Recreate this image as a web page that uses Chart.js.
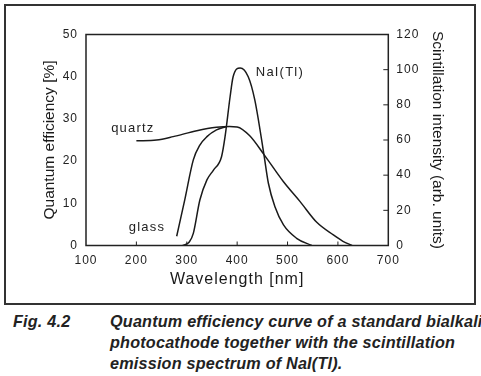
<!DOCTYPE html>
<html lang="en">

<head>
    <meta charset="UTF-8">
    <title>Quantum efficiency</title>
    <script src="https://cdn.jsdelivr.net/npm/chart.js"></script>

    <style>
        body {
            margin: 0;
            background: #ffffff;
            width: 481px;
            height: 376px;
            position: relative;
            overflow: hidden;
            font-family: "Liberation Sans", Arial, sans-serif;
        }

        .frame {
            position: absolute;
            left: 4px;
            top: 4px;
            width: 468px;
            height: 297px;
            border: 2px solid #333;
        }

        #chart {
            position: absolute;
            left: 0;
            top: 0;
        }

        .caption {
            position: absolute;
            font-weight: bold;
            font-style: italic;
            font-size: 16.2px;
            line-height: 21px;
            color: #222;
            letter-spacing: 0.2px;
            white-space: nowrap;
        }
    </style>
</head>

<body>

    <div class="frame"></div>
    <canvas id="chart" width="481" height="310"></canvas>

    <div class="caption" style="left:13px; top:311px;">Fig. 4.2</div>
    <div class="caption" style="left:110px; top:311px;">Quantum efficiency curve of a standard bialkali<br>photocathode together with the scintillation<br>emission spectrum of NaI(Tl).</div>

</body>

</html>

<script>
    // wavelength [nm] / quantum efficiency [%]
    const quartzWl = [200, 240, 273, 320, 359, 385, 400, 425, 453, 492, 525, 558, 591, 610, 628];
    const quartzQE = [24.8, 25.0, 25.8, 27.2, 28.0, 28.2, 28.1, 26.0, 21.6, 15.1, 10.4, 5.5, 2.5, 1.0, 0];

    const glassWl = [280, 296, 313, 326, 340, 359, 379];
    const glassQE = [2.2, 10.8, 20.3, 23.8, 25.8, 27.4, 28.2];

    // NaI(Tl) emission, arb. units
    const naiWl = [292, 305, 313, 326, 340, 353, 369, 376, 386, 392, 406, 422, 435, 453, 462, 475, 492, 518, 548];
    const naiInt = [0, 2, 6.9, 25.9, 37.3, 42.9, 50.5, 61.9, 84.6, 96, 101, 96, 82.8, 52, 35.4, 22, 11.7, 4.1, 0];

    const curveLabels = [
        { text: 'quartz', x: 150, y: 27.8, axis: 'y' },
        { text: 'glass', x: 185, y: 4.4, axis: 'y' },
        { text: 'NaI(Tl)', x: 437, y: 98.7, axis: 'y2' }
    ];

    function toPoints(xs, ys) {
        return xs.map((x, i) => ({ x: x, y: ys[i] }));
    }

    const ink = '#1a1a1a';
    const tickFont = { family: 'Liberation Sans, Arial', size: 12 };
    const titleFont = { family: 'Liberation Sans, Arial', size: 15.5 };

    const lineStyle = {
        borderColor: ink,
        borderWidth: 1.5,
        pointRadius: 0,
        showLine: true,
        fill: false,
        cubicInterpolationMode: 'monotone'
    };

    // axes frame, inward ticks, curve names
    // tick labels and the x title sit on z 1, so they get drawn after the datasets, with spacing
    const extras = {
        id: 'extras',
        beforeDraw(chart) {
            chart.ctx.letterSpacing = '0px';
        },
        afterDatasetsDraw(chart) {
            chart.ctx.letterSpacing = '1px';
        },
        afterDraw(chart) {
            const ctx = chart.ctx;
            const a = chart.chartArea;
            const sx = chart.scales.x;
            const sy2 = chart.scales.y2;
            ctx.save();
            ctx.strokeStyle = '#222';
            ctx.lineWidth = 1.5;
            ctx.strokeRect(a.left, a.top, a.right - a.left, a.bottom - a.top);

            ctx.lineWidth = 1;
            ctx.beginPath();
            sx.ticks.forEach(t => {
                if (t.value <= sx.min || t.value >= sx.max) return;
                const px = sx.getPixelForValue(t.value);
                ctx.moveTo(px, a.bottom);
                ctx.lineTo(px, a.bottom - 4);
            });
            sy2.ticks.forEach(t => {
                if (t.value <= sy2.min || t.value >= sy2.max) return;
                const py = sy2.getPixelForValue(t.value);
                ctx.moveTo(a.right, py);
                ctx.lineTo(a.right - 5, py);
            });
            ctx.stroke();

            ctx.fillStyle = '#222';
            ctx.font = '13px "Liberation Sans", Arial';
            ctx.letterSpacing = '1.2px';
            ctx.textBaseline = 'middle';
            ctx.textAlign = 'left';
            curveLabels.forEach(l => {
                ctx.fillText(l.text, sx.getPixelForValue(l.x), chart.scales[l.axis].getPixelForValue(l.y));
            });
            ctx.restore();
            ctx.letterSpacing = '0px';
        }
    };

    new Chart(document.getElementById('chart'), {
        type: 'scatter',
        data: {
            datasets: [
                { label: 'quartz', data: toPoints(quartzWl, quartzQE), yAxisID: 'y', ...lineStyle },
                { label: 'glass', data: toPoints(glassWl, glassQE), yAxisID: 'y', ...lineStyle },
                { label: 'NaI(Tl)', data: toPoints(naiWl, naiInt), yAxisID: 'y2', ...lineStyle }
            ]
        },
        options: {
            responsive: false,
            animation: false,
            layout: {
                padding: { left: 40, right: 34.4, top: 34.5, bottom: 21 }
            },
            plugins: {
                legend: { display: false },
                tooltip: { enabled: false }
            },
            scales: {
                x: {
                    type: 'linear',
                    min: 100,
                    max: 700,
                    grid: { display: false, drawTicks: false, z: 1 },
                    border: { display: false },
                    ticks: { stepSize: 100, color: '#222', font: tickFont, padding: 8, maxRotation: 0, z: 1 },
                    title: {
                        display: true,
                        text: 'Wavelength [nm]',
                        color: ink,
                        font: { family: 'Liberation Sans, Arial', size: 16 },
                        padding: 0
                    },
                    afterFit(s) { s.height = 43.5; }
                },
                y: {
                    position: 'left',
                    min: 0,
                    max: 50,
                    grid: { display: false, drawTicks: false },
                    border: { display: false },
                    ticks: { stepSize: 10, color: '#222', font: tickFont, padding: 8, z: 1 },
                    title: {
                        display: true,
                        text: 'Quantum efficiency [%]',
                        color: ink,
                        font: titleFont,
                        padding: 0
                    },
                    afterFit(s) { s.width = 46; s.paddingTop = 0; s.paddingBottom = 0; }
                },
                y2: {
                    position: 'right',
                    min: 0,
                    max: 120,
                    grid: { display: false, drawTicks: false },
                    border: { display: false },
                    ticks: { stepSize: 20, color: '#222', font: tickFont, padding: 8, z: 1 },
                    title: {
                        display: true,
                        text: 'Scintillation intensity (arb. units)',
                        color: ink,
                        font: titleFont,
                        padding: 0
                    },
                    afterFit(s) { s.width = 58.3; s.paddingTop = 0; s.paddingBottom = 0; }
                }
            }
        },
        plugins: [extras]
    });
</script>
